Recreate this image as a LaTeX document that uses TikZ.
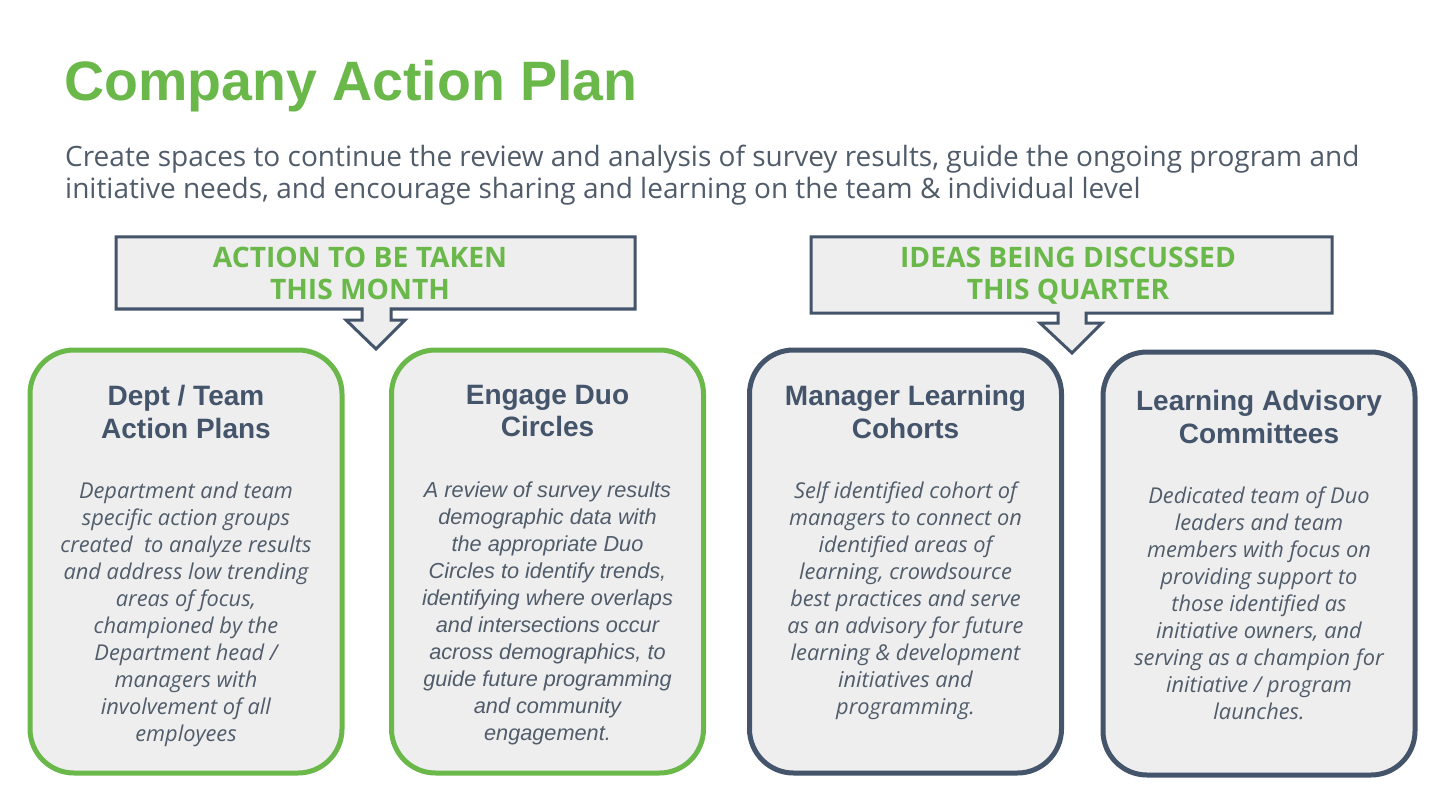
\documentclass[tikz,border=0pt]{standalone}
\usepackage{fontspec}
\setmainfont{Open Sans}
\newfontfamily\headfont{Liberation Sans}
\usetikzlibrary{positioning}

\definecolor{plangreen}{HTML}{6AB84A}
\definecolor{slate}{HTML}{44546A}
\definecolor{bodygray}{HTML}{505C6A}
\definecolor{boxfill}{HTML}{EEEEEE}

\tikzset{
	greencard/.style={draw=plangreen,line width=5pt,fill=boxfill,rounded corners=44pt,minimum width=312pt,minimum height=423pt},
	slatecard/.style={draw=slate,line width=5pt,fill=boxfill,rounded corners=44pt,minimum width=312pt,minimum height=423pt},
	cardhead/.style={text=slate,align=center,font=\headfont\bfseries\fontsize{28}{32.5}\selectfont},
	cardbody/.style={text=bodygray,align=center,font=\itshape\fontsize{21.8}{27}\selectfont},
	callout/.style={draw=slate,line width=3pt,fill=boxfill,line join=miter},
	callouttext/.style={text=plangreen,align=center,font=\bfseries\fontsize{28.2}{32}\selectfont}
}

\begin{document}
\begin{tikzpicture}[x=1pt,y=-1pt]
			
			\useasboundingbox[fill=white] (0,0) rectangle (1440,810);
			
			% Title & intro
			\node[anchor=base west,inner sep=0,text=plangreen,font=\headfont\bfseries\fontsize{55.5}{60}\selectfont] (title) at (64,101) {Company Action Plan};
			\node[anchor=base west,inner sep=0,text=bodygray,align=left,font=\fontsize{28}{32}\selectfont] (intro) at (65,199) {Create spaces to continue the review and analysis of survey results, guide the ongoing program and\\initiative needs, and encourage sharing and learning on the team \& individual level};
			
			% Callouts
			\draw[callout] (116,237) -- (635,237) -- (635,309) -- (391,309) -- (391,320) -- (405,320) -- (376,349) -- (346,320) -- (362,320) -- (362,309) -- (116,309) -- cycle;
			\node[callouttext] (month) at (360,273) {ACTION TO BE TAKEN\\THIS MONTH};
			
			\draw[callout] (811,237) -- (1332,237) -- (1332,313) -- (1086,313) -- (1086,323) -- (1102,323) -- (1072,353) -- (1040,323) -- (1058,323) -- (1058,313) -- (811,313) -- cycle;
			\node[callouttext] (quarter) at (1068,276) {IDEAS BEING DISCUSSED\\THIS QUARTER};
			
			% Cards
			\node[greencard] (dept) at (186,561.5) {};
			\node[greencard] (duo) at (547.5,561.5) {};
			\node[slatecard] (cohort) at (905.5,561.5) {};
			\node[slatecard] (advisory) at (1259,563.5) {};
			
			% Card headings
			\node[cardhead] (depthead) at (186,412) {Dept / Team\\Action Plans};
			\node[cardhead] (duohead) at (547.5,411) {Engage Duo\\Circles};
			\node[cardhead] (cohorthead) at (905.5,412) {Manager Learning\\Cohorts};
			\node[cardhead] (advisoryhead) at (1259,417) {Learning Advisory\\Committees};
			
			% Card texts
			\node[cardbody,below=36pt of depthead] (deptbody) {Department and team\\specific action groups\\created\ \ to analyze results\\and address low trending\\areas of focus,\\championed by the\\Department head /\\managers with\\involvement of all\\employees};
			\node[cardbody,font=\headfont\itshape\fontsize{21.7}{27}\selectfont,below=38pt of duohead] (duobody) {A review of survey results\\demographic data with\\the appropriate Duo\\Circles to identify trends,\\identifying where overlaps\\and intersections occur\\across demographics, to\\guide future programming\\and community\\engagement.};
			\node[cardbody,below=36pt of cohorthead] (cohortbody) {Self identified cohort of\\managers to connect on\\identified areas of\\learning, crowdsource\\best practices and serve\\as an advisory for future\\learning \& development\\initiatives and\\programming.};
			\node[cardbody,below=36pt of advisoryhead] (advisorybody) {Dedicated team of Duo\\leaders and team\\members with focus on\\providing support to\\those identified as\\initiative owners, and\\serving as a champion for\\initiative / program\\launches.};
			
		\end{tikzpicture}
\end{document}
